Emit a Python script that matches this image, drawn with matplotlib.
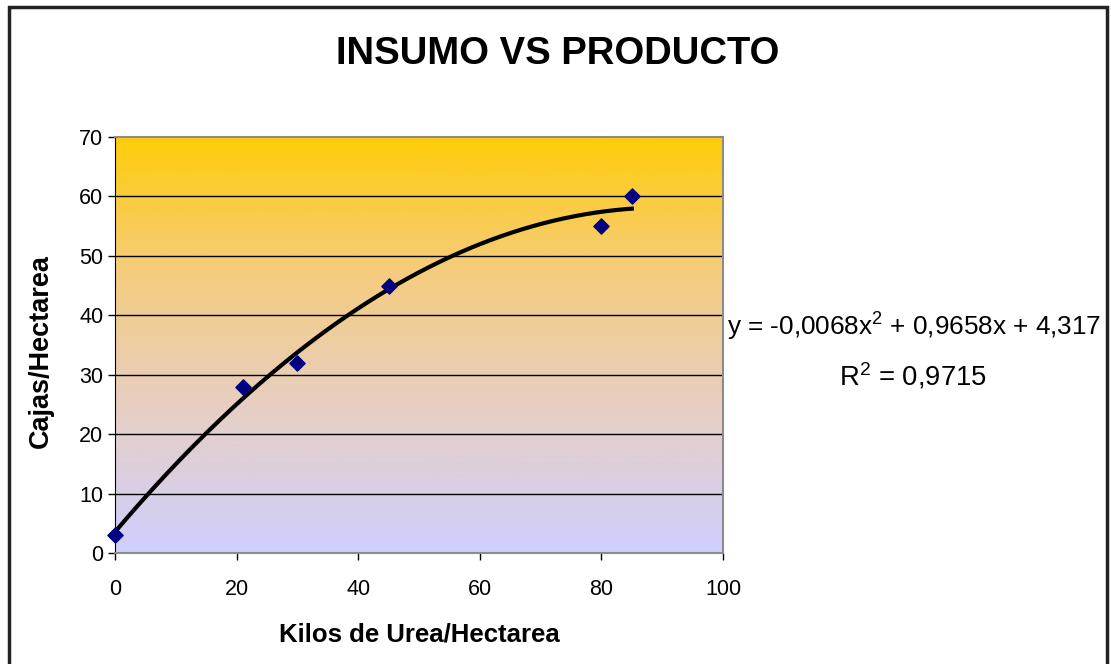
import numpy as np
import matplotlib.pyplot as plt
from matplotlib.colors import LinearSegmentedColormap
from matplotlib.patches import Rectangle

# datos
kilos_urea = [0, 21, 30, 45, 80, 85]
cajas = [3, 28, 32, 45, 55, 60]
ecuacion = 'y = -0,0068x$\\mathregular{^2}$ + 0,9658x + 4,317'
r2_texto = 'R$\\mathregular{^2}$ = 0,9715'
x_ticks = [0, 20, 40, 60, 80, 100]
y_ticks = [0, 10, 20, 30, 40, 50, 60, 70]

plt.rcParams['font.family'] = ['Liberation Sans', 'DejaVu Sans']
plt.rcParams['mathtext.fontset'] = 'custom'
plt.rcParams['mathtext.rm'] = 'Liberation Sans'

W, H = 1111, 664
fig = plt.figure(figsize=(W / 100, H / 100), dpi=100)
ax = fig.add_axes([115 / W, 1 - 553 / H, (723 - 115) / W, (553 - 137) / H])

# fondo degradado
cmap = LinearSegmentedColormap.from_list('fondo', ['#CFCFFF', '#E6CFC6', '#F5CC80', '#FFCC0A'])
grad = np.linspace(0, 1, 256).reshape(-1, 1)
ax.imshow(grad, extent=[0, 100, 0, 70], origin='lower', aspect='auto', cmap=cmap, zorder=0)

for yv in y_ticks[1:-1]:
    ax.axhline(yv, color='black', lw=1, zorder=1)

# linea de tendencia polinomica (grado 2) ajustada a los datos
coef = np.polyfit(kilos_urea, cajas, 2)
xs = np.linspace(min(kilos_urea), max(kilos_urea), 200)
ax.plot(xs, np.polyval(coef, xs), color='black', lw=3, zorder=2)
ax.scatter(kilos_urea, cajas, marker='D', s=60, color='#000080', zorder=3, clip_on=False)

ax.set_xlim(0, 100)
ax.set_ylim(0, 70)
ax.set_xticks(x_ticks)
ax.set_yticks(y_ticks)
ax.tick_params(labelsize=15.5, direction='out', length=5, width=1, colors='black')
ax.tick_params(axis='x', pad=14)
for s in ['top', 'right', 'bottom']:
    ax.spines[s].set_color('#8c8c8c')
    ax.spines[s].set_linewidth(1.5)
ax.spines['left'].set_color('black')

fig.text(558 / W, 1 - 54 / H, 'INSUMO VS PRODUCTO', ha='center', va='center',
         fontsize=27.5, fontweight='bold')
fig.text(419 / W, 1 - 634 / H, 'Kilos de Urea/Hectarea', ha='center', va='center',
         fontsize=18.5, fontweight='bold')
fig.text(41 / W, 1 - 351 / H, 'Cajas/Hectarea', ha='center', va='center',
         fontsize=19.5, fontweight='bold', rotation=90)
fig.text(914 / W, 1 - 327 / H, ecuacion, ha='center', va='center', fontsize=18.8)
fig.text(913 / W, 1 - 376 / H, r2_texto, ha='center', va='center', fontsize=19.8)

# marco del grafico
fig.patches.append(Rectangle((9 / W, -0.05), (1107 - 9) / W, 1.05 - 7 / H,
                             transform=fig.transFigure, fill=False, lw=2.5,
                             edgecolor='#222222'))

plt.savefig('out.png', dpi=100)
